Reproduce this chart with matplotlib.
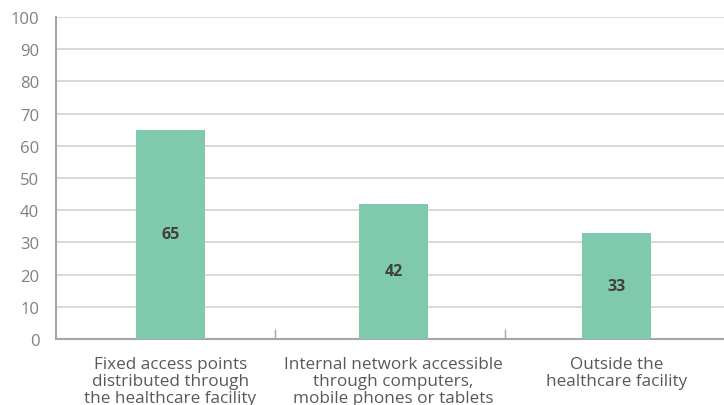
import numpy as np
import matplotlib.pyplot as plt

# chart data
categories = ["Fixed access points\ndistributed through\nthe healthcare facility",
              "Internal network accessible\nthrough computers,\nmobile phones or tablets",
              "Outside the\nhealthcare facility"]
values = [65, 42, 33]
y_ticks = list(range(0, 101, 10))

plt.rcParams['font.family'] = ['Open Sans', 'DejaVu Sans']

fig = plt.figure(figsize=(7.24, 4.06), dpi=100)
ax = fig.add_axes([0.0773, 0.1626, 0.9227, 0.7931])

x = np.arange(len(categories))
bars = ax.bar(x, values, width=0.31, color='#7fcaad', zorder=3)

# value labels in the middle of each bar
for rect, v in zip(bars, values):
    ax.text(rect.get_x() + rect.get_width() / 2, v / 2, str(v),
            ha='center', va='center', fontsize=11.5, fontweight='bold',
            color='#404040', zorder=4)

ax.set_xlim(-0.513, 2.482)
ax.set_ylim(0, 100)
ax.set_yticks(y_ticks)
ax.grid(axis='y', color='#d3d3d3', linewidth=1.2, zorder=0)
ax.tick_params(axis='y', length=0, pad=12, labelsize=12, labelcolor='#808080')

ax.set_xticks(x)
ax.set_xticklabels(categories, fontsize=12.3, color='#595959', linespacing=1.1)
ax.tick_params(axis='x', which='major', length=0, pad=12)
# small separators between categories
ax.set_xticks([0.47, 1.5], minor=True)
ax.tick_params(axis='x', which='minor', direction='in', length=7,
               color='#a6a6a6', width=1)

for side in ['top', 'right']:
    ax.spines[side].set_visible(False)
for side in ['left', 'bottom']:
    ax.spines[side].set_color('#a6a6a6')
    ax.spines[side].set_linewidth(1.5)

fig.savefig('out.png', dpi=100)
